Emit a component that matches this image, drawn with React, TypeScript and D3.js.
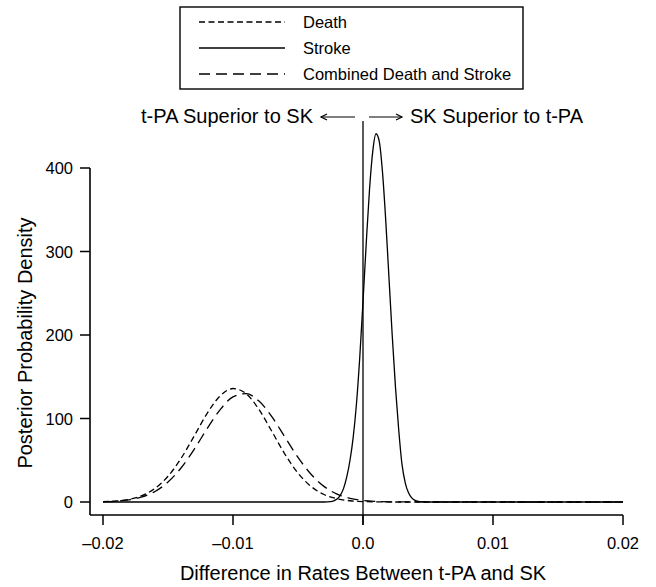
import React from "react";
import * as d3 from "d3";

const xTicks = [-0.02, -0.01, 0, 0.01, 0.02];
const xTickLabels = ["\u20130.02", "\u20130.01", "0.0", "0.01", "0.02"];
const yTicks = [0, 100, 200, 300, 400];
const yTickLabels = ["0", "100", "200", "300", "400"];

const broadX = [
  -0.02, -0.019, -0.018, -0.017, -0.016, -0.015, -0.014, -0.013, -0.012, -0.011,
  -0.01, -0.009, -0.008, -0.007, -0.006, -0.005, -0.004, -0.003, -0.002, -0.001,
  0.0, 0.001, 0.002, 0.003, 0.02,
];
const deathDensity = [
  0.4, 1.2, 3.2, 7.7, 16.3, 30.8, 52.1, 78.6, 105.8, 126.9,
  135.9, 129.9, 110.7, 84.2, 57.1, 34.5, 18.7, 9.0, 3.9, 1.5,
  0.5, 0.15, 0.04, 0, 0,
];
const combinedDensity = [
  0.4, 1.0, 2.6, 6.1, 12.6, 23.9, 40.7, 62.8, 87.6, 110.4,
  125.9, 129.7, 120.9, 101.9, 77.6, 53.4, 33.3, 18.7, 9.5, 4.4,
  1.8, 0.7, 0.2, 0.1, 0,
];

const strokeX = [
  -0.02, -0.003, -0.0025, -0.00225, -0.002, -0.00175, -0.0015, -0.00125, -0.001,
  -0.00075, -0.0005, -0.00025, 0.0, 0.00025, 0.0005, 0.00075, 0.001, 0.00125,
  0.0015, 0.00175, 0.002, 0.00225, 0.0025, 0.00275, 0.003, 0.00325, 0.0035,
  0.00375, 0.004, 0.00425, 0.0045, 0.005, 0.02,
];
const strokeDensity = [
  0, 0, 0.5, 1.4, 3.5, 8, 16, 30, 50,
  78, 118, 173, 240, 310, 374, 420, 441, 432,
  395, 337, 268, 199, 137, 86, 45, 23, 11,
  5, 2, 0.8, 0.3, 0, 0,
];

const legendLabels = ["Death", "Stroke", "Combined Death and Stroke"];
const legendDash = ["6,3.5", "none", "11,6"];

const FONT = "'Liberation Sans', Arial, Helvetica, sans-serif";

export default function App() {
  const W = 656;
  const H = 587;
  const x = d3.scaleLinear().domain([-0.02, 0.02]).range([103, 623]);
  const y = d3.scaleLinear().domain([0, 400]).range([502, 168]);
  const axisLeft = 90;
  const axisBottom = 515;

  const line = d3
    .line<[number, number]>()
    .x((d) => x(d[0]))
    .y((d) => y(d[1]))
    .curve(d3.curveMonotoneX);

  const deathPath = line(broadX.map((v, i) => [v, deathDensity[i]]) as [number, number][]) || "";
  const combinedPath = line(broadX.map((v, i) => [v, combinedDensity[i]]) as [number, number][]) || "";
  const strokePath = line(strokeX.map((v, i) => [v, strokeDensity[i]]) as [number, number][]) || "";

  const x0 = x(0);
  const arrowY = 117;

  return (
    <svg
      width={W}
      height={H}
      style={{ position: "absolute", left: 0, top: 0, background: "#fff" }}
      fontFamily={FONT}
    >
      <rect x={0} y={0} width={W} height={H} fill="#fff" />

      {/* Legend */}
      <rect x={180} y={7} width={343} height={82} fill="none" stroke="#000" strokeWidth={1.4} />
      {legendLabels.map((lab, i) => {
        const ly = 22 + i * 26;
        return (
          <g key={lab}>
            <line
              x1={199}
              x2={285}
              y1={ly}
              y2={ly}
              stroke="#000"
              strokeWidth={1.3}
              strokeDasharray={legendDash[i] === "none" ? undefined : legendDash[i]}
            />
            <text x={303} y={ly + 6} fontSize={16.5} fill="#000">
              {lab}
            </text>
          </g>
        );
      })}

      {/* Direction annotations */}
      <text x={313} y={arrowY + 6} fontSize={20} textAnchor="end" fill="#000">
        t-PA Superior to SK
      </text>
      <text x={410} y={arrowY + 6} fontSize={20} textAnchor="start" fill="#000">
        SK Superior to t-PA
      </text>
      <g stroke="#000" strokeWidth={1.2} fill="none">
        <line x1={355} x2={321} y1={arrowY} y2={arrowY} />
        <polyline points={`${327},${arrowY - 3} ${321},${arrowY} ${327},${arrowY + 3}`} />
        <line x1={369} x2={402} y1={arrowY} y2={arrowY} />
        <polyline points={`${396},${arrowY - 3} ${402},${arrowY} ${396},${arrowY + 3}`} />
      </g>

      {/* Zero reference line */}
      <line x1={x0} x2={x0} y1={121} y2={525} stroke="#000" strokeWidth={1.3} />

      {/* Curves */}
      <path d={strokePath} fill="none" stroke="#000" strokeWidth={1.3} />
      <path d={deathPath} fill="none" stroke="#000" strokeWidth={1.3} strokeDasharray="6,3.5" />
      <path d={combinedPath} fill="none" stroke="#000" strokeWidth={1.3} strokeDasharray="11,6" />

      {/* Y axis */}
      <line x1={axisLeft} x2={axisLeft} y1={y(400)} y2={axisBottom} stroke="#000" strokeWidth={1.6} />
      {yTicks.map((t, i) => (
        <g key={t}>
          <line x1={axisLeft - 10} x2={axisLeft} y1={y(t)} y2={y(t)} stroke="#000" strokeWidth={1.5} />
          <text x={73} y={y(t) + 6} fontSize={16.5} textAnchor="end" fill="#000">
            {yTickLabels[i]}
          </text>
        </g>
      ))}
      <text
        transform={`translate(32, 343) rotate(-90)`}
        fontSize={20}
        textAnchor="middle"
        fill="#000"
      >
        Posterior Probability Density
      </text>

      {/* X axis */}
      <line x1={axisLeft} x2={x(0.02)} y1={axisBottom} y2={axisBottom} stroke="#000" strokeWidth={1.6} />
      {xTicks.map((t, i) => (
        <g key={t}>
          <line x1={x(t)} x2={x(t)} y1={axisBottom} y2={axisBottom + 10} stroke="#000" strokeWidth={1.5} />
          <text x={x(t)} y={549} fontSize={16.5} textAnchor="middle" fill="#000">
            {xTickLabels[i]}
          </text>
        </g>
      ))}
      <text x={363} y={580} fontSize={20} textAnchor="middle" fill="#000">
        Difference in Rates Between t-PA and SK
      </text>
    </svg>
  );
}
